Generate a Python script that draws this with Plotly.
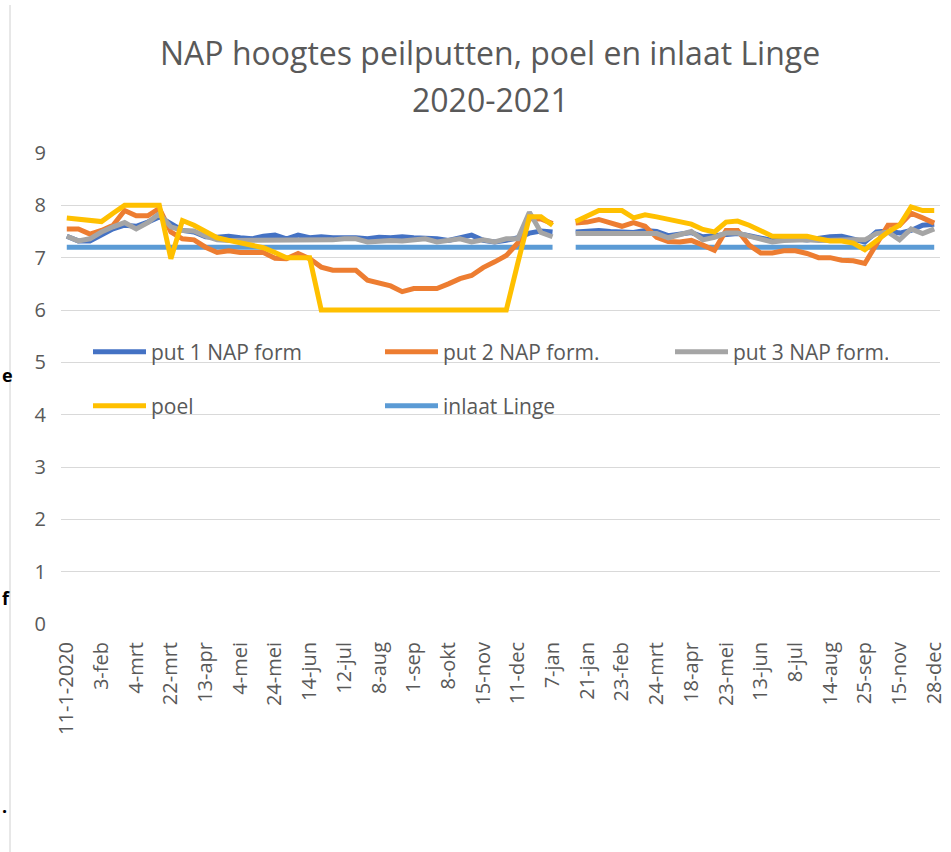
import plotly.graph_objects as go

tick_labels = ["11-1-2020", "3-feb", "4-mrt", "22-mrt", "13-apr", "4-mei", "24-mei", "14-jun",
               "12-jul", "8-aug", "1-sep", "8-okt", "15-nov", "11-dec", "7-jan", "21-jan",
               "23-feb", "24-mrt", "18-apr", "23-mei", "13-jun", "8-jul", "14-aug", "25-sep",
               "15-nov", "28-dec"]

put1 = [7.41, 7.32, 7.32, 7.43, 7.55, 7.62, 7.60, 7.68, 7.78, 7.65, 7.52, 7.49, 7.40, 7.39, 7.41,
        7.38, 7.36, 7.41, 7.43, 7.36, 7.43, 7.38, 7.40, 7.38, 7.39, 7.38, 7.36, 7.39, 7.38, 7.40,
        7.38, 7.38, 7.36, 7.33, 7.38, 7.43, 7.33, 7.30, 7.33, 7.38, 7.47, 7.51, 7.49, None,
        7.49, 7.50, 7.52, 7.50, 7.48, 7.48, 7.52, 7.50, 7.42, 7.45, 7.48, 7.40, 7.42, 7.45, 7.46,
        7.42, 7.38, 7.33, 7.35, 7.36, 7.34, 7.38, 7.40, 7.41, 7.36, 7.30, 7.49, 7.51, 7.47, 7.52,
        7.62, 7.64]

put2 = [7.55, 7.55, 7.45, 7.52, 7.62, 7.90, 7.80, 7.80, 7.94, 7.49, 7.36, 7.34, 7.20, 7.10, 7.13,
        7.10, 7.10, 7.10, 6.99, 6.98, 7.08, 6.98, 6.82, 6.76, 6.76, 6.76, 6.57, 6.52, 6.46, 6.35,
        6.41, 6.41, 6.41, 6.50, 6.60, 6.66, 6.81, 6.92, 7.04, 7.28, 7.75, 7.74, 7.65, None,
        7.66, 7.68, 7.73, 7.66, 7.60, 7.67, 7.60, 7.39, 7.31, 7.30, 7.33, 7.24, 7.14, 7.52, 7.52,
        7.24, 7.09, 7.09, 7.13, 7.13, 7.08, 7.00, 7.00, 6.95, 6.94, 6.89, 7.27, 7.62, 7.62, 7.85,
        7.76, 7.66]

put3 = [7.41, 7.32, 7.36, 7.49, 7.59, 7.67, 7.55, 7.67, 7.84, 7.59, 7.52, 7.51, 7.41, 7.34, 7.33,
        7.33, 7.33, 7.34, 7.32, 7.33, 7.32, 7.34, 7.33, 7.34, 7.36, 7.36, 7.30, 7.32, 7.33, 7.32,
        7.33, 7.36, 7.30, 7.34, 7.36, 7.30, 7.34, 7.30, 7.36, 7.36, 7.87, 7.48, 7.40, None,
        7.46, 7.46, 7.46, 7.46, 7.46, 7.46, 7.46, 7.46, 7.38, 7.45, 7.50, 7.34, 7.39, 7.47, 7.47,
        7.41, 7.36, 7.30, 7.33, 7.34, 7.34, 7.33, 7.34, 7.34, 7.34, 7.34, 7.46, 7.49, 7.34, 7.55,
        7.46, 7.55]

poel = [7.76, 7.73, 7.70, 7.69, 7.85, 8.00, 8.00, 8.00, 8.00, 6.98, 7.71, 7.62, 7.50, 7.38, 7.33,
        7.29, 7.25, 7.19, 7.10, 7.00, 7.00, 7.00, 6.00, 6.00, 6.00, 6.00, 6.00, 6.00, 6.00, 6.00,
        6.00, 6.00, 6.00, 6.00, 6.00, 6.00, 6.00, 6.00, 6.00, 6.90, 7.78, 7.78, 7.62, None,
        7.69, 7.80, 7.90, 7.90, 7.90, 7.76, 7.82, 7.78, 7.73, 7.68, 7.64, 7.54, 7.49, 7.68, 7.70,
        7.62, 7.52, 7.41, 7.41, 7.41, 7.41, 7.36, 7.32, 7.32, 7.28, 7.15, 7.32, 7.49, 7.62, 7.97,
        7.90, 7.90]

inlaat = [7.2] * 43 + [None] + [7.2] * 32

x = list(range(len(put1)))
tickvals = list(range(0, len(put1), 3))

FONT = "Open Sans"
GREY = "#595959"

fig = go.Figure()
fig.add_trace(go.Scatter(x=x, y=inlaat, name="inlaat Linge", mode="lines",
                         line=dict(color="#5B9BD5", width=5), legend="legend2", legendrank=5))
fig.add_trace(go.Scatter(x=x, y=put1, name="put 1 NAP form", mode="lines",
                         line=dict(color="#4472C4", width=5), legend="legend", legendrank=1))
fig.add_trace(go.Scatter(x=x, y=put2, name="put 2 NAP form.", mode="lines",
                         line=dict(color="#ED7D31", width=5), legend="legend", legendrank=2))
fig.add_trace(go.Scatter(x=x, y=put3, name="put 3 NAP form.", mode="lines",
                         line=dict(color="#A5A5A5", width=5), legend="legend3", legendrank=3))
fig.add_trace(go.Scatter(x=x, y=poel, name="poel", mode="lines",
                         line=dict(color="#FFC000", width=5), legend="legend2", legendrank=4))

L, R, T, B = 61, 940, 153, 624
W, H = 951, 852
pw, ph = R - L, B - T


def px(xp):
    return (xp - L) / pw


def py(yp):
    return (B - yp) / ph


legend_common = dict(orientation="h", entrywidthmode="pixels",
                     bgcolor="rgba(0,0,0,0)", font=dict(family=FONT, size=21, color=GREY),
                     xanchor="left", yanchor="middle", itemwidth=53, traceorder="normal")

fig.update_layout(
    width=W, height=H,
    margin=dict(l=L, r=W - R, t=T, b=H - B, pad=0, autoexpand=False),
    paper_bgcolor="white", plot_bgcolor="white",
    showlegend=True,
    legend=dict(x=px(88), y=py(352), entrywidth=224, **legend_common),
    legend3=dict(x=px(88 + 2 * 291), y=py(352), entrywidth=150, **legend_common),
    legend2=dict(x=px(88), y=py(406), entrywidth=224, **legend_common),
    xaxis=dict(range=[-0.5, len(put1) - 0.5], tickmode="array", tickvals=tickvals,
               ticktext=tick_labels, tickangle=-90, showgrid=False, zeroline=False,
               showline=False, ticks="", ticklabelstandoff=13,
               tickfont=dict(family=FONT, size=20, color=GREY)),
    yaxis=dict(range=[0, 9], dtick=1, showgrid=True, gridcolor="#D9D9D9", gridwidth=1,
               zeroline=False, showline=False, ticks="", ticklabelstandoff=14,
               tickfont=dict(family=FONT, size=20, color=GREY)),
    annotations=[
        dict(text="NAP hoogtes peilputten, poel en inlaat Linge", xref="paper", yref="paper",
             x=px(490), y=py(52), xanchor="center", yanchor="middle", showarrow=False,
             font=dict(family=FONT, size=32, color=GREY)),
        dict(text="2020-2021", xref="paper", yref="paper",
             x=px(490), y=py(99), xanchor="center", yanchor="middle", showarrow=False,
             font=dict(family=FONT, size=32, color=GREY)),
        dict(text="<b>e</b>", xref="paper", yref="paper", x=px(0), y=py(375), xanchor="left",
             yanchor="middle", showarrow=False, font=dict(family=FONT, size=18, color="black")),
        dict(text="<b>f</b>", xref="paper", yref="paper", x=px(0), y=py(598), xanchor="left",
             yanchor="middle", showarrow=False, font=dict(family=FONT, size=18, color="black")),
        dict(text="<b>.</b>", xref="paper", yref="paper", x=px(0), y=py(806), xanchor="left",
             yanchor="middle", showarrow=False, font=dict(family=FONT, size=18, color="black")),
    ],
    shapes=[
        dict(type="line", xref="paper", yref="paper", x0=px(10), x1=px(10), y0=py(5), y1=py(852),
             line=dict(color="#D0D0D0", width=1)),
    ],
)

fig.write_html("out.html", config={"displayModeBar": False},
               post_script="document.body.style.margin='0';document.body.style.overflow='hidden';")
